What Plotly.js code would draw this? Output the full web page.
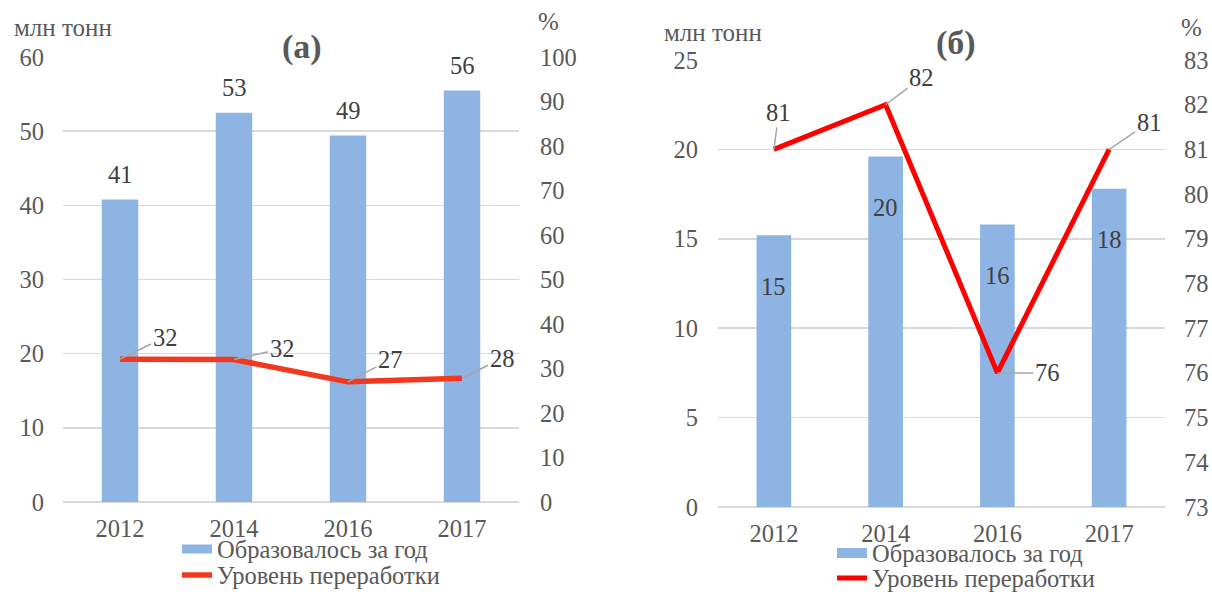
<!DOCTYPE html>
<html><head><meta charset="utf-8">
<script src="https://cdn.plot.ly/plotly-3.0.1.min.js"></script>
<style>html,body{margin:0;padding:0;background:#fff}</style>
</head><body><div id="chart" style="width:1212px;height:592px"></div>
<script>
const years = ['2012', '2014', '2016', '2017'];
// (а)
const formedA = [40.8, 52.5, 49.4, 55.5];
const formedALabels = ['41', '53', '49', '56'];
const recycleA = [32.1, 32.0, 27.0, 27.8];
const recycleALabels = ['32', '32', '27', '28'];
// (б)
const formedB = [15.2, 19.6, 15.8, 17.8];
const formedBLabels = ['15', '20', '16', '18'];
const recycleB = [81.0, 82.0, 76.0, 81.0];
const recycleBLabels = ['81', '82', '76', '81'];

const legendBar = 'Образовалось за год';
const legendLine = 'Уровень переработки';

const FONT = 'Liberation Serif';
const TXT = '#595959';
const BAR = '#8EB4E3';
const GRID = '#D9D9D9';
const RED_A = '#F2391F';
const RED_B = '#FF0000';

const traces = [
  {type:'bar', x:years, y:formedA, xaxis:'x', yaxis:'y', name:legendBar, marker:{color:BAR},
   width:0.32, showlegend:false, hoverinfo:'skip'},
  {type:'scatter', mode:'lines', x:[null], y:[null], xaxis:'x', yaxis:'y', name:legendBar,
   line:{color:BAR, width:9}, legend:'legend', hoverinfo:'skip'},
  {type:'scatter', mode:'lines', x:years, y:recycleA, xaxis:'x', yaxis:'y2', name:legendLine,
   line:{color:RED_A, width:5.5}, legend:'legend2', hoverinfo:'skip'},
  {type:'bar', x:years, y:formedB, xaxis:'x2', yaxis:'y3', name:legendBar, marker:{color:BAR},
   width:0.31, showlegend:false, hoverinfo:'skip'},
  {type:'scatter', mode:'lines', x:[null], y:[null], xaxis:'x2', yaxis:'y3', name:legendBar,
   line:{color:BAR, width:11}, legend:'legend3', hoverinfo:'skip'},
  {type:'scatter', mode:'lines', x:years, y:recycleB, xaxis:'x2', yaxis:'y4', name:legendLine,
   line:{color:RED_B, width:5}, legend:'legend4', hoverinfo:'skip'}
];

const tickFont = {family:FONT, size:24.5, color:TXT};
const annFont = {family:FONT, size:24.5, color:'#404040'};

const annotations = [];
formedA.forEach((v,i)=>{
  annotations.push({x:i, y:v, xref:'x', yref:'y', text:formedALabels[i], showarrow:false,
    xanchor:'center', yanchor:'middle', yshift:25, font:annFont});
});
const offA = [[45,-22],[48,-11],[42,-22],[40,-20]];
recycleA.forEach((v,i)=>{
  annotations.push({x:i, y:v, xref:'x', yref:'y2', text:recycleALabels[i], showarrow:true,
    ax:offA[i][0], ay:offA[i][1], arrowhead:0, arrowwidth:1.5, arrowcolor:'#A6A6A6', standoff:0,
    font:annFont});
});
const offB = [[5,-37],[36,-27],[50,0],[40,-27]];
recycleB.forEach((v,i)=>{
  annotations.push({x:i, y:v, xref:'x2', yref:'y4', text:recycleBLabels[i], showarrow:true,
    ax:offB[i][0], ay:offB[i][1], arrowhead:0, arrowwidth:1.5, arrowcolor:'#A6A6A6', standoff:0,
    font:annFont});
});
formedB.forEach((v,i)=>{
  annotations.push({x:i, y:v, xref:'x2', yref:'y3', text:formedBLabels[i], showarrow:false,
    xanchor:'center', yanchor:'middle', yshift:-51, font:annFont});
});
function paperText(x, y, text, size, anchor) {
  annotations.push({xref:'paper', yref:'paper', x:x/1212, y:1-y/592, text:text, showarrow:false,
    xanchor:anchor, yanchor:'middle', font:{family:FONT, size:size, color:TXT}});
}
paperText(302, 47, '<b>(а)</b>', 34, 'center');
paperText(956, 43, '<b>(б)</b>', 34, 'center');
paperText(12, 28, 'млн тонн', 25, 'left');
paperText(548, 21, '%', 25, 'center');
paperText(662, 33, 'млн тонн', 25, 'left');
paperText(1191, 28, '%', 25, 'center');

const yA = [1-502/592, 1-57/592];
const yB = [1-507/592, 1-60/592];

function leg(x, y) {
  return {x:x/1212, y:1-y/592, xanchor:'left', yanchor:'middle', orientation:'v', bgcolor:'rgba(0,0,0,0)',
    borderwidth:0, font:{family:FONT, size:24.5, color:TXT}, tracegroupgap:0};
}
const hideTick = {ticks:'outside', tickcolor:'rgba(0,0,0,0)'};

const layout = {
  width:1212, height:592, margin:{l:0,r:0,t:0,b:0, autoexpand:false},
  paper_bgcolor:'#fff', plot_bgcolor:'#fff',
  font:{family:FONT, color:TXT},
  showlegend:true,
  xaxis:Object.assign({domain:[63/1212, 519/1212], anchor:'y', type:'category', range:[-0.5,3.5], showgrid:false,
    tickfont:tickFont, showline:false, zeroline:false, ticklen:5}, hideTick),
  yaxis:Object.assign({domain:yA, anchor:'x', range:[0,60], dtick:10, gridcolor:GRID, gridwidth:1.5, tickfont:tickFont,
    zeroline:true, zerolinecolor:GRID, zerolinewidth:1.5, showline:false, ticklen:13}, hideTick),
  yaxis2:Object.assign({overlaying:'y', anchor:'x', side:'right', range:[0,100], dtick:10, showgrid:false, tickfont:tickFont,
    zeroline:false, showline:false, ticklen:15}, hideTick),
  xaxis2:Object.assign({domain:[718/1212, 1165/1212], anchor:'y3', type:'category', range:[-0.5,3.5], showgrid:false,
    tickfont:tickFont, showline:false, zeroline:false, ticklen:5}, hideTick),
  yaxis3:Object.assign({domain:yB, anchor:'x2', range:[0,25], dtick:5, gridcolor:GRID, gridwidth:1.5, tickfont:tickFont,
    zeroline:true, zerolinecolor:GRID, zerolinewidth:1.5, showline:false, ticklen:14}, hideTick),
  yaxis4:Object.assign({overlaying:'y3', anchor:'x2', side:'right', range:[73,83], dtick:1, showgrid:false, tickfont:tickFont,
    zeroline:false, showline:false, ticklen:13}, hideTick),
  legend:leg(177, 549),
  legend2:leg(177, 575),
  legend3:leg(832, 553),
  legend4:leg(832, 578),
  annotations:annotations
};

Plotly.newPlot('chart', traces, layout, {staticPlot:true, displayModeBar:false});
</script></body></html>
